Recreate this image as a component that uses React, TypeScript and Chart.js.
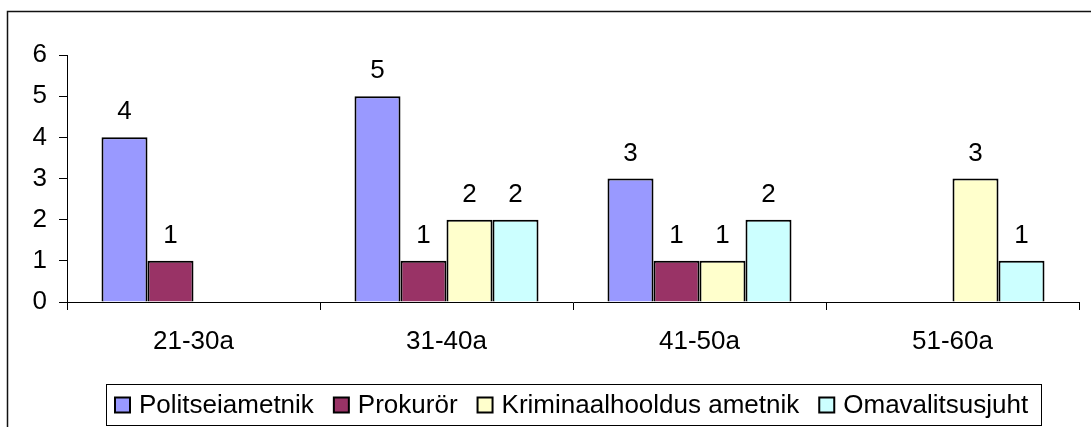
import React, { useEffect, useRef } from "react";
import { Chart, registerables } from "chart.js";

Chart.register(...registerables);

const categories = ["21-30a", "31-40a", "41-50a", "51-60a"];
const seriesNames = ["Politseiametnik", "Prokurör", "Kriminaalhooldus ametnik", "Omavalitsusjuht"];
const politseiametnik = [4, 5, 3, null];
const prokuror = [1, 1, 1, null];
const kriminaalhooldus = [null, 2, 1, 3];
const omavalitsusjuht = [null, 2, 2, 1];
const seriesColors = ["#9999FF", "#993366", "#FFFFCC", "#CCFFFF"];
const yTicks = [0, 1, 2, 3, 4, 5, 6];

const FONT = "'Liberation Sans', Arial, sans-serif";
const FS = 26;

const decorPlugin = {
  id: "decor",
  afterDatasetsDraw(chart: any) {
    const ctx = chart.ctx;
    ctx.save();
    ctx.font = `${FS}px ${FONT}`;
    ctx.fillStyle = "#000";
    ctx.textAlign = "center";
    ctx.textBaseline = "alphabetic";
    chart.data.datasets.forEach((ds: any, i: number) => {
      const meta = chart.getDatasetMeta(i);
      meta.data.forEach((bar: any, j: number) => {
        const v = ds.data[j];
        if (v === null || v === undefined) return;
        ctx.fillText(String(v), bar.x, bar.y - 18);
      });
    });
    ctx.restore();
  },
  afterDraw(chart: any) {
    const ctx = chart.ctx;
    ctx.save();
    // outer frame (left and top visible)
    ctx.strokeStyle = "#111";
    ctx.lineWidth = 1.5;
    ctx.beginPath();
    ctx.moveTo(7.5, chart.height + 5);
    ctx.lineTo(7.5, 11.5);
    ctx.lineTo(chart.width + 5, 11.5);
    ctx.stroke();

    // legend
    const ca = chart.chartArea;
    const center = (ca.left + ca.right) / 2;
    ctx.font = `${FS}px ${FONT}`;
    const sw = 17;
    const gapText = 8;
    const gapItem = 19;
    const widths = seriesNames.map((n) => ctx.measureText(n).width);
    const total = widths.reduce((a, w) => a + sw + gapText + w, 0) + gapItem * (seriesNames.length - 1);
    const padL = 7.5;
    const padR = 13.5;
    const boxW = Math.round(total + padL + padR);
    const boxLeft = Math.round(center - boxW / 2) + 0.5;
    const boxTop = 384.5;
    const boxH = 41;
    ctx.fillStyle = "#fff";
    ctx.fillRect(boxLeft, boxTop, boxW, boxH);
    ctx.strokeStyle = "#000";
    ctx.lineWidth = 1;
    ctx.strokeRect(boxLeft, boxTop, boxW, boxH);
    let x = boxLeft + padL;
    const cy = boxTop + boxH / 2;
    seriesNames.forEach((n, i) => {
      ctx.fillStyle = seriesColors[i];
      ctx.fillRect(x + 1, cy - sw / 2 + 1, sw - 2, sw - 2);
      ctx.strokeStyle = "#000";
      ctx.lineWidth = 2;
      ctx.strokeRect(x + 1, cy - sw / 2 + 1, sw - 2, sw - 2);
      ctx.fillStyle = "#000";
      ctx.textAlign = "left";
      ctx.textBaseline = "middle";
      ctx.fillText(n, x + sw + gapText, cy + 1);
      x += sw + gapText + widths[i] + gapItem;
    });
    ctx.restore();
  },
};

export default function App() {
  const ref = useRef<HTMLCanvasElement | null>(null);
  useEffect(() => {
    if (!ref.current) return;
    const dataArrays = [politseiametnik, prokuror, kriminaalhooldus, omavalitsusjuht];
    const chart = new Chart(ref.current, {
      type: "bar",
      data: {
        labels: categories,
        datasets: seriesNames.map((name, i) => ({
          label: name,
          data: dataArrays[i] as any,
          backgroundColor: seriesColors[i],
          borderColor: "#000",
          borderWidth: 2,
          categoryPercentage: 4 / 5.5,
          barPercentage: 1,
        })),
      },
      options: {
        animation: false,
        responsive: false,
        devicePixelRatio: 1,
        layout: { padding: { top: 55, right: 12, left: 0, bottom: 0 } },
        plugins: { legend: { display: false }, tooltip: { enabled: false } },
        scales: {
          x: {
            grid: {
              display: true,
              drawOnChartArea: false,
              drawTicks: true,
              tickLength: 8,
              color: "#000",
              offset: true,
            },
            border: { display: true, color: "#000", width: 1 },
            ticks: { color: "#000", font: { family: FONT, size: FS }, padding: 16 },
            afterFit: (s: any) => {
              s.height = 125;
            },
          },
          y: {
            min: 0,
            max: 6,
            afterBuildTicks: (s: any) => {
              s.ticks = yTicks.map((v) => ({ value: v }));
            },
            grid: {
              display: true,
              drawOnChartArea: false,
              drawTicks: true,
              tickLength: 8,
              color: "#000",
            },
            border: { display: true, color: "#000", width: 1 },
            ticks: { color: "#000", font: { family: FONT, size: FS }, padding: 12 },
            afterFit: (s: any) => {
              s.width = 67;
            },
          },
        },
      },
      plugins: [decorPlugin],
    });
    return () => chart.destroy();
  }, []);
  return (
    <div style={{ position: "fixed", left: 0, top: 0, width: 1091, height: 427, background: "#fff" }}>
      <canvas ref={ref} width={1091} height={427} style={{ display: "block" }} />
    </div>
  );
}
